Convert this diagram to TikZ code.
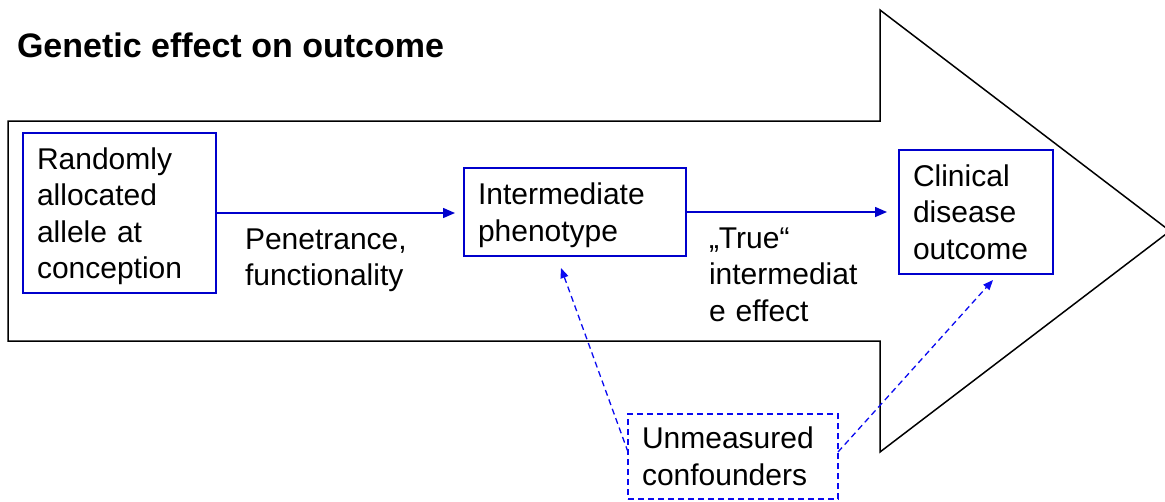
\documentclass[tikz,border=0pt]{standalone}
\usepackage{fontspec}
\setmainfont{Liberation Sans}
\usetikzlibrary{arrows.meta}
\definecolor{linkblue}{RGB}{0,0,204}
\definecolor{dashblue}{RGB}{10,10,240}
% last line without descender depth, so box text sits from the top as in the slide
\newcommand{\flatline}[1]{\raisebox{0pt}[\height][0pt]{#1}}
\begin{document}
\begin{tikzpicture}[x=1pt,y=-1pt,
  every node/.style={font=\fontsize{30}{36.5}\selectfont, outer sep=0pt},
  box/.style={draw=linkblue, line width=1.5pt, anchor=north west,
    inner xsep=14pt, inner ysep=0pt, align=left},
  dashbox/.style={box, draw=dashblue, line width=1.3pt, dash pattern=on 6pt off 4pt},
  label/.style={anchor=base west, inner sep=0pt, align=left},
  flow/.style={draw=linkblue, line width=1.5pt, -{Triangle[length=12pt,width=10pt]}},
  conf/.style={draw=dashblue, line width=1.3pt, dash pattern=on 6pt off 4pt,
    -{Triangle[length=10pt,width=8pt]}},
  outline/.style={draw=black, line width=1.5pt, line join=miter}
]
\useasboundingbox (0,0) rectangle (1165,501);

% large block arrow behind the causal chain
\draw[outline] (8,121) -- (880,121) -- (880,10) -- (1170,231)
  -- (880,452) -- (880,341) -- (8,341) -- cycle;

% title
\node[label, font=\bfseries\fontsize{34}{40}\selectfont] (title) at (17,57)
  {Genetic effect on outcome};

% boxes of the causal chain
\node[box, text width=165pt, minimum width=193pt, minimum height=160pt]
  (allele) at (23,133) {Randomly\\allocated\\allele at\\\flatline{conception}};
\node[box, text width=194pt, minimum width=222pt, minimum height=88pt]
  (phen) at (464,168) {Intermediate\\\flatline{phenotype}};
\node[box, text width=126pt, minimum width=154pt, minimum height=124pt]
  (clin) at (899,150) {Clinical\\disease\\outcome};
\node[dashbox, text width=182pt, minimum width=210pt, minimum height=85pt]
  (unm) at (628,414) {Unmeasured\\confounders};

% edge labels
\node[label, text width=175pt] (pen) at (245,249) {Penetrance,\\functionality};
\node[label, text width=165pt] (true) at (709,248) {„True“\\intermediat\\e effect};

% arrows along the chain
\draw[flow, shorten >=9pt] (allele.east) -- (allele.east -| phen.west);
\draw[flow, shorten >=12pt] (phen.east) -- (phen.east -| clin.west);

% confounding paths
\coordinate (hitphen) at (561,268);
\coordinate (hitclin) at (993,280);
\draw[conf] ([yshift=4.5pt]unm.west) -- (hitphen);
\draw[conf] ([yshift=4.5pt]unm.east) -- (hitclin);
\end{tikzpicture}
\end{document}
